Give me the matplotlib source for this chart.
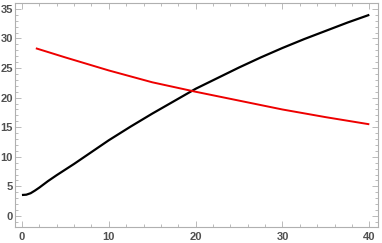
import matplotlib
matplotlib.use('Agg')
import matplotlib.pyplot as plt
from matplotlib.ticker import MultipleLocator

# black curve
black_x = [0, 0.5, 1, 1.5, 2, 3, 4, 6, 8, 10, 12.5, 15, 17.5, 20, 22.5, 25, 27.5, 30, 32.5, 35, 37.5, 40]
black_y = [3.55, 3.6, 3.85, 4.3, 4.8, 5.9, 6.9, 8.8, 10.8, 12.8, 15.1, 17.3, 19.4, 21.5, 23.3, 25.1, 26.8, 28.4, 29.9, 31.3, 32.7, 34.0]

# red curve
red_x = [1.6, 5, 10, 15, 20, 25, 30, 35, 40]
red_y = [28.35, 26.8, 24.6, 22.6, 21.0, 19.5, 18.0, 16.7, 15.5]

xticks = [0, 10, 20, 30, 40]
yticks = [0, 5, 10, 15, 20, 25, 30, 35]

plt.rcParams['font.family'] = ['Liberation Sans', 'DejaVu Sans']

fig = plt.figure(figsize=(3.82, 2.43), dpi=100)
ax = fig.add_axes([15/382, 16/243, 363/382, 224/243])

ax.plot(black_x, black_y, color='black', lw=1.6, solid_capstyle='butt')
ax.plot(red_x, red_y, color='#ee0000', lw=1.4, solid_capstyle='butt')

ax.set_xlim(-0.8, 41.0)
ax.set_ylim(-1.86, 36.0)
ax.set_xticks(xticks)
ax.set_yticks(yticks)
ax.xaxis.set_minor_locator(MultipleLocator(2))
ax.yaxis.set_minor_locator(MultipleLocator(1))

for s in ax.spines.values():
	s.set_color('#b0b0b0')
	s.set_linewidth(0.8)
ax.tick_params(which='both', direction='in', top=True, right=True, color='#b0b0b0', width=0.6)
ax.tick_params(which='major', length=4, labelsize=8, labelcolor='#505050')
ax.tick_params(which='minor', length=2)
ax.tick_params(axis='y', pad=1.5)
ax.tick_params(axis='x', pad=3.5)
for lab in ax.get_xticklabels() + ax.get_yticklabels():
	lab.set_fontweight('bold')

plt.savefig('out.png', dpi=100)
